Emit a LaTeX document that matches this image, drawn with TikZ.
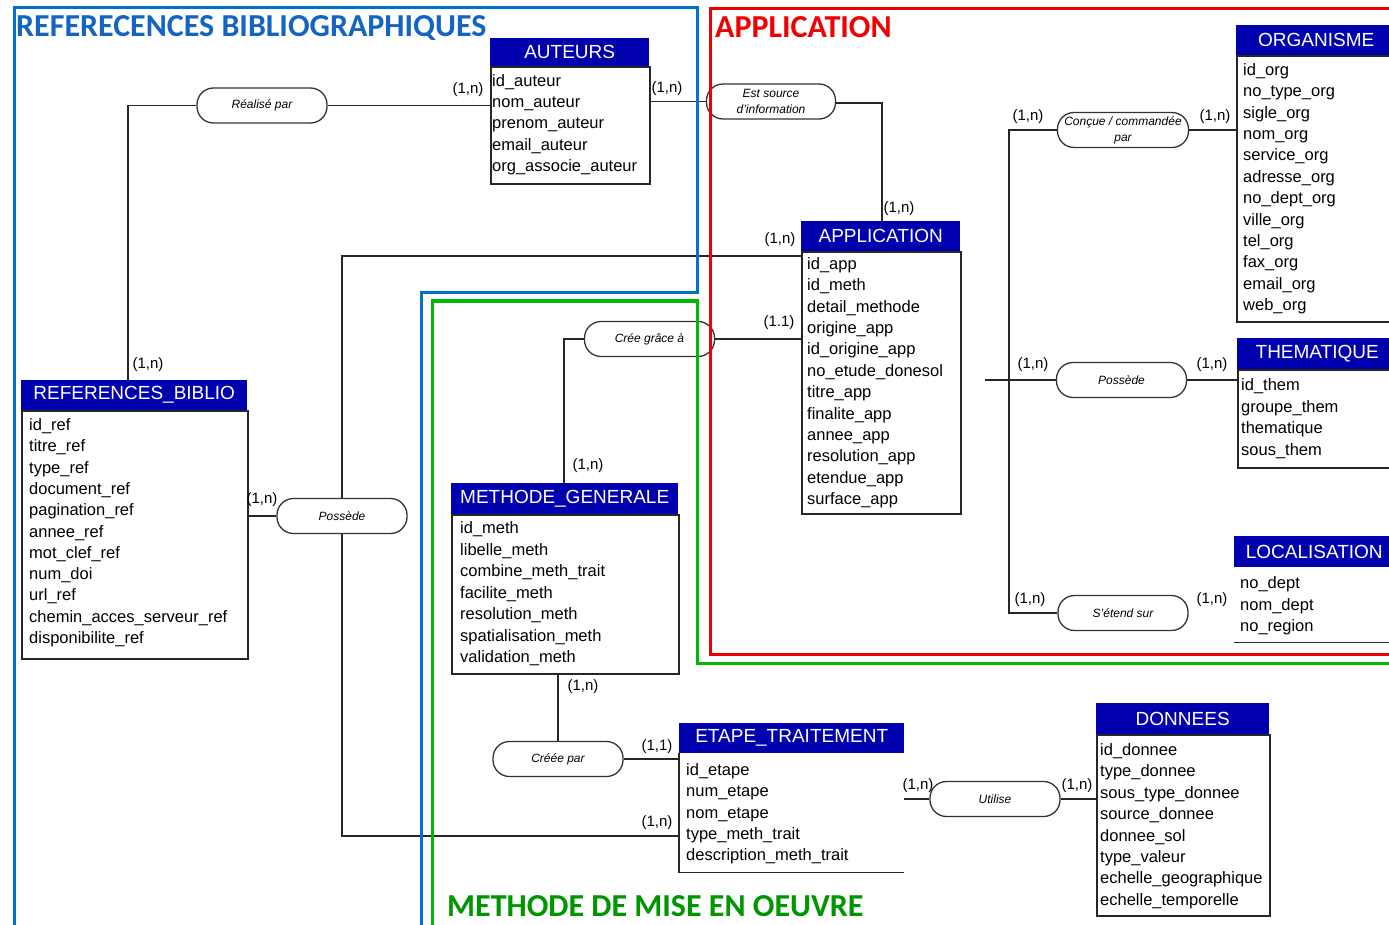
\documentclass[tikz,border=0pt]{standalone}
\usepackage{fontspec}
\setmainfont{Liberation Sans}
\newfontfamily\titlefont{Carlito}
\definecolor{hdrblue}{RGB}{0,0,175}
\definecolor{zblue}{RGB}{0,112,210}
\definecolor{tblue}{RGB}{20,100,195}
\definecolor{zred}{RGB}{240,0,0}
\definecolor{zgreen}{RGB}{0,185,0}
\definecolor{tgreen}{RGB}{0,150,0}
\begin{document}
\begin{tikzpicture}[x=1pt,y=-1pt,
 hdr/.style={fill=hdrblue,text=white,font=\fontsize{19}{22}\selectfont,inner sep=0pt,anchor=north west},
 ent/.style={draw=black!85,line width=1.6pt,fill=white,inner sep=0pt,anchor=north west},
 entopen/.style={inner sep=0pt,anchor=north west},
 entline/.style={draw=black!85,line width=1.6pt},
 attr/.style={font=\fontsize{16.5}{20}\selectfont,inner sep=0pt,anchor=base west},
 rel/.style={rectangle,rounded corners=16.5pt,draw=black!80,fill=white,line width=1.3pt,minimum width=130pt,minimum height=35pt,font=\itshape\fontsize{12}{16}\selectfont,align=center,inner sep=0pt},
 card/.style={font=\fontsize{15}{18}\selectfont,inner sep=0pt},
 link/.style={line width=1.5pt,draw=black!85},
 zone/.style={line width=3pt},
 ztitle/.style={anchor=west,inner sep=0pt,font=\titlefont\bfseries\fontsize{32}{38}\selectfont}
]
\clip (0,0) rectangle (1389,925);
\fill[white] (0,0) rectangle (1389,925);

% ---------- entities ----------
% AUTEURS
\node[ent,minimum width=159pt,minimum height=117pt] (autB) at (490,66) {};
\node[hdr,minimum width=159pt,minimum height=28pt] (auth) at (490,38) {AUTEURS};
\foreach \t [count=\i from 0] in {id\_auteur,nom\_auteur,prenom\_auteur,email\_auteur,org\_associe\_auteur}
  \node[attr] (aut\i) at (492,{86.5+21.25*\i}) {\t};

% APPLICATION
\node[ent,minimum width=159pt,minimum height=262pt] (appB) at (801,251) {};
\node[hdr,minimum width=159pt,minimum height=30pt] (apph) at (801,221) {APPLICATION};
\foreach \t [count=\i from 0] in {id\_app,id\_meth,detail\_methode,origine\_app,id\_origine\_app,no\_etude\_donesol,titre\_app,finalite\_app,annee\_app,resolution\_app,etendue\_app,surface\_app}
  \node[attr] (app\i) at (807,{269.5+21.36*\i}) {\t};

% ORGANISME
\node[ent,minimum width=160pt,minimum height=266pt] (orgB) at (1236,55) {};
\node[hdr,minimum width=160pt,minimum height=30pt] (orgh) at (1236,25) {ORGANISME};
\foreach \t [count=\i from 0] in {id\_org,no\_type\_org,sigle\_org,nom\_org,service\_org,adresse\_org,no\_dept\_org,ville\_org,tel\_org,fax\_org,email\_org,web\_org}
  \node[attr] (org\i) at (1243,{75.5+21.36*\i}) {\t};

% THEMATIQUE
\node[ent,minimum width=160pt,minimum height=98pt] (themB) at (1237,369) {};
\node[hdr,minimum width=160pt,minimum height=31pt] (themh) at (1237,338) {THEMATIQUE};
\foreach \t [count=\i from 0] in {id\_them,groupe\_them,thematique,sous\_them}
  \node[attr] (them\i) at (1241,{390.5+21.5*\i}) {\t};

% LOCALISATION
\node[entopen,minimum width=160pt,minimum height=75pt] (locB) at (1234,567) {};
\draw[entline] (locB.south west) -- (locB.south east);
\node[hdr,minimum width=160pt,minimum height=31pt] (loch) at (1234,536) {LOCALISATION};
\foreach \t [count=\i from 0] in {no\_dept,nom\_dept,no\_region}
  \node[attr] (loc\i) at (1240,{588.5+21.5*\i}) {\t};

% REFERENCES_BIBLIO
\node[ent,minimum width=226pt,minimum height=248pt] (refB) at (21,410) {};
\node[hdr,minimum width=226pt,minimum height=30pt] (refh) at (21,380) {REFERENCES\_BIBLIO};
\foreach \t [count=\i from 0] in {id\_ref,titre\_ref,type\_ref,document\_ref,pagination\_ref,annee\_ref,mot\_clef\_ref,num\_doi,url\_ref,chemin\_acces\_serveur\_ref,disponibilite\_ref}
  \node[attr] (ref\i) at (29,{430.5+21.3*\i}) {\t};

% METHODE_GENERALE
\node[ent,minimum width=227pt,minimum height=159pt] (methB) at (451,514) {};
\node[hdr,minimum width=227pt,minimum height=31pt] (methh) at (451,483) {METHODE\_GENERALE};
\foreach \t [count=\i from 0] in {id\_meth,libelle\_meth,combine\_meth\_trait,facilite\_meth,resolution\_meth,spatialisation\_meth,validation\_meth}
  \node[attr] (meth\i) at (460,{533.5+21.5*\i}) {\t};

% ETAPE_TRAITEMENT
\node[entopen,minimum width=225pt,minimum height=119pt] (etB) at (679,753) {};
\draw[entline] (etB.north west) -- (etB.south west) -- (etB.south east);
\node[hdr,minimum width=225pt,minimum height=30pt] (eth) at (679,723) {ETAPE\_TRAITEMENT};
\foreach \t [count=\i from 0] in {id\_etape,num\_etape,nom\_etape,type\_meth\_trait,description\_meth\_trait}
  \node[attr] (et\i) at (686,{775.5+21.25*\i}) {\t};

% DONNEES
\node[ent,minimum width=173pt,minimum height=181pt] (donB) at (1096,734) {};
\node[hdr,minimum width=173pt,minimum height=31pt] (donh) at (1096,703) {DONNEES};
\foreach \t [count=\i from 0] in {id\_donnee,type\_donnee,sous\_type\_donnee,source\_donnee,donnee\_sol,type\_valeur,echelle\_geographique,echelle\_temporelle}
  \node[attr] (don\i) at (1100,{755.5+21.4*\i}) {\t};

% ---------- relationships ----------
\node[rel] (realise) at (262,105.5) {Réalisé par};
\node[rel,minimum width=129pt] (estsource) at (771,101.5) {Est source\\d'information};
\node[rel,minimum width=131pt] (conc) at (1123,130) {Conçue / commandée\\par};
\node[rel] (creegrace) at (649.5,339) {Crée grâce à};
\node[rel] (possL) at (342,516) {Possède};
\node[rel] (possR) at (1121.5,380) {Possède};
\node[rel] (etend) at (1123,613) {S'étend sur};
\node[rel] (creepar) at (558,759) {Créée par};
\node[rel] (utilise) at (995,799) {Utilise};

% ---------- connectors ----------
\draw[link] (realise.west) -| ([xshift=107pt]refh.north west);
\draw[link] (realise.east) -- (realise.east -| autB.west);
\draw[link] (estsource.west -| autB.east) -- (estsource.west);
\draw[link] ([yshift=-1.5pt]estsource.east) -| ([xshift=81pt]apph.north west);
\draw[link] (possL.north) |- ([yshift=-5pt]appB.north west);
\draw[link] (possL.south) |- ([yshift=-83pt]etB.north west);
\draw[link] (possL.west -| refB.east) -- (possL.west);
\draw[link] (creegrace.west) -| ([xshift=113pt]methh.north west);
\draw[link] (creegrace.east) -- (creegrace.east -| appB.west);
\draw[link] (creepar.north) -- (creepar.north |- methB.south);
\draw[link] (creepar.east) -- (creepar.east -| etB.west);
\draw[link] (utilise.west -| etB.east) -- (utilise.west);
\draw[link] (utilise.east) -- (utilise.east -| donB.west);
\coordinate (jR) at (985,380);
\draw[link] (jR) -- (possR.west);
\draw[link] (etend.west) -| ([xshift=-48pt]conc.west) -- (conc.west);
\draw[link] (conc.east) -- (conc.east -| orgB.west);
\draw[link] (possR.east) -- (possR.east -| themB.west);

% ---------- cardinalities ----------
\node[card] (k1) at (148,365) {(1,n)};
\node[card] (k2) at (468,90) {(1,n)};
\node[card] (k3) at (667,89) {(1,n)};
\node[card] (k4) at (899,209) {(1,n)};
\node[card] (k5) at (780,240) {(1,n)};
\node[card] (k6) at (779,323) {(1.1)};
\node[card] (k7) at (262,500) {(1,n)};
\node[card] (k8) at (588,466) {(1,n)};
\node[card] (k9) at (583,687) {(1,n)};
\node[card] (k10) at (657,747) {(1,1)};
\node[card] (k11) at (657,823) {(1,n)};
\node[card] (k12) at (918,786) {(1,n)};
\node[card] (k13) at (1077,786) {(1,n)};
\node[card] (k14) at (1028,117) {(1,n)};
\node[card] (k15) at (1215,117) {(1,n)};
\node[card] (k16) at (1033,365) {(1,n)};
\node[card] (k17) at (1212,365) {(1,n)};
\node[card] (k18) at (1030,600) {(1,n)};
\node[card] (k19) at (1212,600) {(1,n)};

% ---------- zones ----------
\draw[zone,zblue] (14,925) -- (14,8) -- (697,8) -- (697,293) -- (421,293) -- (421,925);
\draw[zone,zred] (1395,9) -- (710,9) -- (710,654) -- (1395,654);
\draw[zone,zgreen] (432,925) -- (432,301) -- (697,301) -- (697,663) -- (1395,663);
\node[ztitle,text=tblue] (t1) at (16,28) {REFERECENCES BIBLIOGRAPHIQUES};
\node[ztitle,text=zred] (t2) at (715,27) {APPLICATION};
\node[ztitle,text=tgreen] (t3) at (447,906) {METHODE DE MISE EN OEUVRE};
\end{tikzpicture}
\end{document}
